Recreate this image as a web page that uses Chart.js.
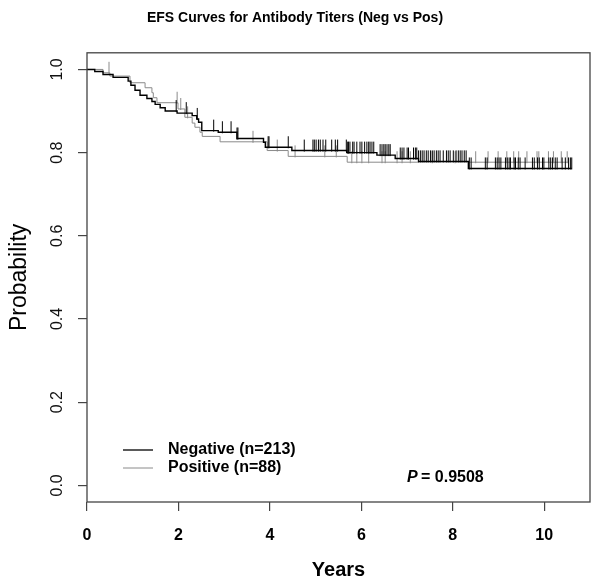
<!DOCTYPE html>
<html>
<head>
<meta charset="utf-8">
<script src="https://cdn.jsdelivr.net/npm/chart.js@4/dist/chart.umd.min.js"></script>
<style>
body{margin:0;background:#fff;}
</style>
</head>
<body>
<canvas id="myChart" width="600" height="587"></canvas>
<script>
// step curve for the negative group (time in years, survival after the drop)
const negTime = [0, 0.17, 0.35, 0.57, 0.90, 0.96, 1.05, 1.16, 1.31, 1.42, 1.49, 1.60, 1.71, 1.97, 2.30, 2.40, 2.44, 2.51, 2.87, 3.28, 3.86, 3.90, 4.48, 5.68, 6.34, 6.74, 7.25, 8.34, 10.60];
const negSurv = [1.000, 0.995, 0.988, 0.981, 0.972, 0.962, 0.950, 0.938, 0.930, 0.923, 0.916, 0.908, 0.900, 0.895, 0.889, 0.881, 0.873, 0.853, 0.849, 0.834, 0.825, 0.813, 0.805, 0.800, 0.794, 0.786, 0.779, 0.762, 0.762];

// positive group
const posTime = [0, 0.35, 0.50, 0.94, 1.27, 1.42, 1.45, 1.53, 1.99, 2.14, 2.30, 2.36, 2.47, 2.52, 2.91, 3.94, 4.40, 5.69, 10.52];
const posSurv = [1.000, 0.992, 0.984, 0.968, 0.956, 0.944, 0.932, 0.920, 0.905, 0.885, 0.871, 0.861, 0.849, 0.839, 0.826, 0.805, 0.791, 0.777, 0.777];

// censored times (the little tick marks)
const negCensor = [1.95, 2.17, 2.41, 2.77, 2.96, 3.15, 3.28, 3.30, 3.96, 3.98, 4.40, 4.75, 4.94, 4.97, 5.01, 5.06, 5.10, 5.16, 5.22, 5.35, 5.43, 5.48, 5.67, 5.70, 5.72, 5.75, 5.81, 5.84, 5.90, 5.97, 6.01, 6.07, 6.12, 6.16, 6.19, 6.23, 6.27, 6.41, 6.45, 6.49, 6.52, 6.56, 6.60, 6.63, 6.85, 6.89, 6.93, 7.00, 7.03, 7.14, 7.18, 7.21, 7.25, 7.29, 7.33, 7.37, 7.42, 7.46, 7.51, 7.55, 7.59, 7.64, 7.68, 7.72, 7.79, 7.86, 7.90, 7.94, 8.01, 8.07, 8.12, 8.16, 8.20, 8.25, 8.29, 8.36, 8.40, 8.71, 8.75, 8.93, 8.97, 9.01, 9.05, 9.15, 9.19, 9.23, 9.26, 9.34, 9.37, 9.43, 9.47, 9.58, 9.74, 9.78, 9.85, 9.89, 9.96, 9.99, 10.10, 10.14, 10.18, 10.24, 10.28, 10.39, 10.46, 10.53, 10.57, 10.60];
const posCensor = [0.48, 1.97, 2.05, 2.20, 3.63, 4.16, 4.55, 5.20, 5.45, 5.79, 5.90, 6.01, 6.16, 6.45, 6.52, 6.78, 6.89, 7.07, 7.55, 8.05, 8.50, 8.77, 8.99, 9.18, 9.33, 9.44, 9.62, 9.84, 9.88, 10.09, 10.20, 10.37, 10.50];

const xTicks = [0, 2, 4, 6, 8, 10];
const yTicks = [0, 0.2, 0.4, 0.6, 0.8, 1.0];
const seriesLabels = ["Negative (n=213)", "Positive (n=88)"];
const pText = "0.9508";

const FONT = "'Liberation Sans', Arial, sans-serif";

// survival level at time t (last step at or before t)
function levelAt(times, surv, t){
    let v = surv[0];
    for(let i=0;i<times.length;i++){
        if(times[i] <= t) v = surv[i];
    }
    return v;
}

// small vertical tick used as point style, mostly above the line
function tickImage(color){
    const c = document.createElement("canvas");
    c.width = 3;
    c.height = 24;
    const g = c.getContext("2d");
    g.strokeStyle = color;
    g.lineWidth = 1;
    g.beginPath();
    g.moveTo(1.5, 1);
    g.lineTo(1.5, 13);
    g.stroke();
    return c;
}

const negLine = negTime.map((t,i) => ({x:t, y:negSurv[i]}));
const posLine = posTime.map((t,i) => ({x:t, y:posSurv[i]}));
const negMarks = negCensor.map(t => ({x:t, y:levelAt(negTime, negSurv, t)}));
const posMarks = posCensor.map(t => ({x:t, y:levelAt(posTime, posSurv, t)}));

const BLACK = "#000000";
const GREY = "#8a8a8a";

const extras = {
    id: "extras",
    afterDraw(chart){
        const ctx = chart.ctx;
        const a = chart.chartArea;
        const ys = chart.scales.y;
        ctx.save();

        // box round the plot
        ctx.strokeStyle = "#444";
        ctx.lineWidth = 1.3;
        ctx.strokeRect(a.left, a.top, a.right - a.left, a.bottom - a.top);

        // y tick labels, rotated like R
        ctx.fillStyle = "#111";
        ctx.font = "16px " + FONT;
        ctx.textAlign = "center";
        ctx.textBaseline = "middle";
        yTicks.forEach(function(v){
            const py = ys.getPixelForValue(v);
            ctx.save();
            ctx.translate(58, py);
            ctx.rotate(-Math.PI/2);
            ctx.fillText(v.toFixed(1), 0, 0);
            ctx.restore();
        });

        // legend
        const legendRows = [{label:seriesLabels[0], color:BLACK, w:1.3, y:450}, {label:seriesLabels[1], color:GREY, w:1, y:468}];
        legendRows.forEach(function(r){
            ctx.strokeStyle = r.color;
            ctx.lineWidth = r.w;
            ctx.beginPath();
            ctx.moveTo(123, r.y);
            ctx.lineTo(153, r.y);
            ctx.stroke();
            ctx.fillStyle = "#000";
            ctx.font = "bold 16px " + FONT;
            ctx.textAlign = "left";
            ctx.fillText(r.label, 168, r.y);
        });

        // p value
        ctx.font = "italic bold 16px " + FONT;
        ctx.fillText("P", 407, 478);
        ctx.font = "bold 16px " + FONT;
        ctx.fillText("= " + pText, 421, 478);

        ctx.restore();
    }
};

const ctx = document.getElementById("myChart").getContext("2d");
const myChart = new Chart(ctx, {
    type: "scatter",
    data: {
        datasets: [
            {
                label: seriesLabels[0],
                data: negLine,
                showLine: true,
                stepped: true,
                borderColor: BLACK,
                borderWidth: 1.4,
                pointRadius: 0,
                order: 1
            },
            {
                label: seriesLabels[1],
                data: posLine,
                showLine: true,
                stepped: true,
                borderColor: GREY,
                borderWidth: 1,
                pointRadius: 0,
                order: 2
            },
            {
                label: "neg censored",
                data: negMarks,
                showLine: false,
                pointStyle: tickImage(BLACK),
                pointRadius: 5,
                order: 0
            },
            {
                label: "pos censored",
                data: posMarks,
                showLine: false,
                pointStyle: tickImage(GREY),
                pointRadius: 5,
                order: 3
            }
        ]
    },
    options: {
        responsive: false,
        animation: false,
        events: [],
        layout: {padding: {top: 0, right: 10, bottom: 0, left: 0}},
        plugins: {
            legend: {display: false},
            tooltip: {enabled: false},
            title: {
                display: true,
                text: "EFS Curves for Antibody Titers (Neg vs Pos)",
                color: "#000",
                font: {family: FONT, size: 14, weight: "bold"},
                padding: {top: 10, bottom: 26}
            }
        },
        scales: {
            x: {
                type: "linear",
                min: 0,
                max: 11,
                afterBuildTicks: function(scale){
                    scale.ticks = xTicks.map(v => ({value: v}));
                },
                afterFit: function(scale){
                    scale.height = 85;
                },
                grid: {drawOnChartArea: false, drawTicks: true, tickLength: 9, color: "#444", lineWidth: 1.2},
                border: {display: false},
                ticks: {
                    color: "#000",
                    font: {family: FONT, size: 16, weight: "bold"},
                    padding: 15,
                    maxRotation: 0,
                    callback: v => v
                },
                title: {
                    display: true,
                    text: "Years",
                    color: "#000",
                    font: {family: FONT, size: 20, weight: "bold"},
                    padding: {top: 0, bottom: 5}
                }
            },
            y: {
                type: "linear",
                min: -0.04,
                max: 1.04,
                afterBuildTicks: function(scale){
                    scale.ticks = yTicks.map(v => ({value: v}));
                },
                afterFit: function(scale){
                    scale.width = 87;
                },
                grid: {drawOnChartArea: false, drawTicks: true, tickLength: 9, color: "#444", lineWidth: 1.2},
                border: {display: false},
                ticks: {display: false},
                title: {
                    display: true,
                    text: "Probability",
                    color: "#000",
                    font: {family: FONT, size: 23},
                    padding: {top: 6, bottom: 0}
                }
            }
        }
    },
    plugins: [extras]
});
</script>
</body>
</html>
